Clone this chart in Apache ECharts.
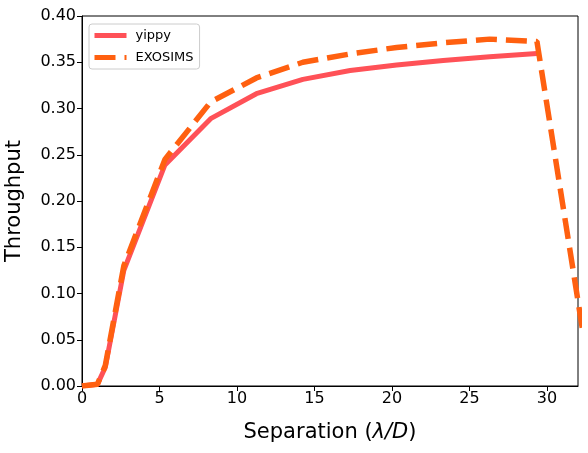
<!DOCTYPE html>
<html>
<head>
<meta charset="utf-8">
<script src="https://cdn.jsdelivr.net/npm/echarts@6/dist/echarts.min.js"></script>
<style>
  html, body { margin: 0; padding: 0; background: #fff; }
  #chart { width: 588px; height: 453px; }
</style>
</head>
<body>
<div id="chart"></div>
<script>
// separation in lambda/D, throughput values
var yippySep = [0, 1.0, 1.5, 2.7, 5.35, 8.3, 11.25, 14.25, 17.3, 20.3, 23.3, 26.3, 29.35];
var yippyThr = [0, 0.002, 0.02, 0.125, 0.239, 0.289, 0.316, 0.3315, 0.341, 0.347, 0.352, 0.356, 0.3595];

var exoSep = [0, 1.0, 1.5, 2.7, 5.35, 8.3, 11.25, 14.25, 17.3, 20.3, 23.3, 26.3, 29.35, 32.3];
var exoThr = [0, 0.002, 0.022, 0.13, 0.245, 0.307, 0.333, 0.350, 0.359, 0.366, 0.371, 0.375, 0.3725, 0.06];

var xTicks = [0, 5, 10, 15, 20, 25, 30];

function pairs(xs, ys) {
  return xs.map(function (x, i) { return [x, ys[i]]; });
}

var chart = echarts.init(document.getElementById('chart'));
var font = 'DejaVu Sans';

var option = {
  animation: false,
  textStyle: { fontFamily: font },
  grid: {
    left: 82, right: 10, top: 16, bottom: 67,
    outerBoundsMode: 'none',
    show: true, borderColor: '#000', borderWidth: 1
  },
  legend: {
    left: 89, top: 24,
    orient: 'vertical',
    itemWidth: 32, itemHeight: 12, itemGap: 9,
    padding: [5, 6, 5, 3],
    backgroundColor: '#fff',
    borderColor: '#cccccc', borderWidth: 1, borderRadius: 3,
    itemStyle: { opacity: 0 },
    lineStyle: { width: 5 },
    textStyle: { fontFamily: font, fontSize: 13, color: '#000', padding: [0, 0, 0, 4] },
    data: ['yippy', 'EXOSIMS']
  },
  xAxis: {
    type: 'value',
    min: 0, max: 32, interval: 5,
    name: 'Separation ({i|λ/D})',
    nameLocation: 'middle',
    nameGap: 36,
    nameTextStyle: {
      fontFamily: font, fontSize: 21, color: '#000',
      rich: { i: { fontFamily: font, fontSize: 21, fontStyle: 'italic', color: '#000' } }
    },
    splitLine: { show: false },
    axisLine: { lineStyle: { color: '#000', width: 1 } },
    axisTick: { length: 5, lineStyle: { color: '#000' }, customValues: xTicks },
    axisLabel: { fontSize: 16, color: '#000', margin: 5, customValues: xTicks }
  },
  yAxis: {
    type: 'value',
    min: 0, max: 0.4, interval: 0.05,
    name: 'Throughput',
    nameLocation: 'middle',
    nameGap: 57,
    nameTextStyle: { fontFamily: font, fontSize: 21, color: '#000' },
    splitLine: { show: false },
    axisLine: { show: true, lineStyle: { color: '#000', width: 1 } },
    axisTick: { show: true, length: 5, lineStyle: { color: '#000' } },
    axisLabel: {
      fontSize: 16, color: '#000', margin: 6,
      formatter: function (v) { return v.toFixed(2); }
    }
  },
  series: [
    {
      name: 'yippy',
      type: 'line',
      data: pairs(yippySep, yippyThr),
      symbol: 'none',
      color: '#ff5157',
      lineStyle: { width: 5, color: '#ff5157', join: 'round' }
    },
    {
      name: 'EXOSIMS',
      type: 'line',
      data: pairs(exoSep, exoThr),
      symbol: 'none',
      color: '#ff6010',
      lineStyle: { width: 5.5, color: '#ff6010', type: [21, 9] }
    }
  ]
};

chart.setOption(option);
</script>
</body>
</html>
